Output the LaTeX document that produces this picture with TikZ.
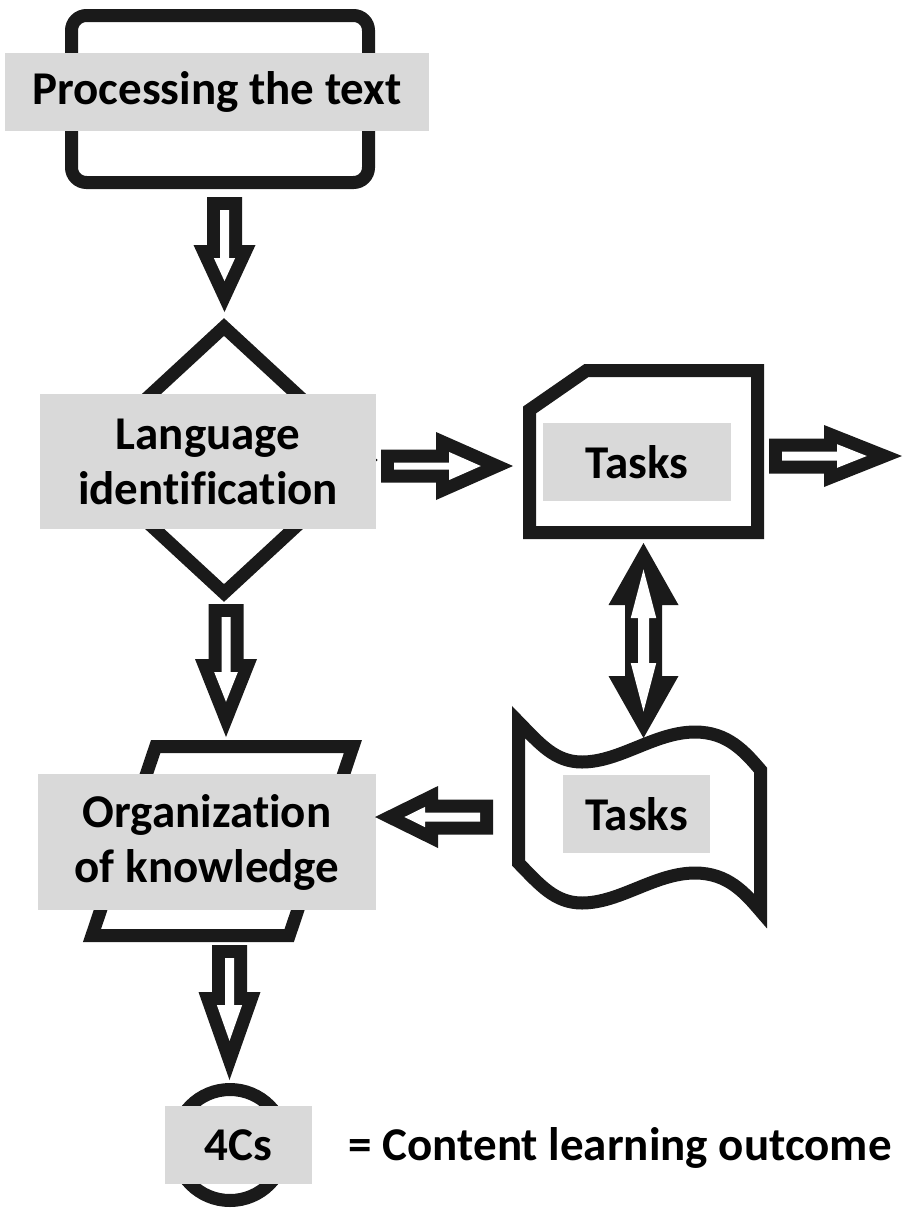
\documentclass[tikz,border=0pt]{standalone}
\usepackage{fontspec}
\setmainfont{Carlito}[RawFeature={-liga;-clig;-dlig;-calt}]
\usetikzlibrary{calc}
\definecolor{lblgray}{RGB}{217,217,217}
\definecolor{ink}{RGB}{26,26,26}
\tikzset{
  shapeline/.style={draw=ink, line width=13pt, line join=miter, fill=white},
  lbl/.style={fill=lblgray, inner sep=0pt, font=\bfseries\fontsize{47}{55}\selectfont, align=center, text=black},
  plain/.style={inner sep=0pt, font=\bfseries\fontsize{47}{55}\selectfont, text=black},
}
\newdimen\BAxa \newdimen\BAya \newdimen\BAxb \newdimen\BAyb
% #1 start, #2 end, #3 head length, #4 head half width, #5 shaft half width
\newcommand{\blockarrow}[5]{%
  \pgfextractx{\BAxa}{\pgfpointanchor{#1}{center}}%
  \pgfextracty{\BAya}{\pgfpointanchor{#1}{center}}%
  \pgfextractx{\BAxb}{\pgfpointanchor{#2}{center}}%
  \pgfextracty{\BAyb}{\pgfpointanchor{#2}{center}}%
  \pgfmathsetmacro\BAang{atan2(\the\BAyb-\the\BAya,\the\BAxb-\the\BAxa)}%
  \pgfmathsetmacro\BAlen{veclen(\the\BAxb-\the\BAxa,\the\BAyb-\the\BAya)}%
  \pgfmathsetmacro\BAb{\BAlen-#3}%
  \pgfmathsetmacro\BAal{atan(#4/#3)}%
  \pgfmathsetmacro\BAd{13/sin(\BAal)}%
  \pgfmathsetmacro\BAwi{#4*(#3-13)/#3-13/cos(\BAal)}%
  \pgfmathsetmacro\BAs{#5-13}%
  \begin{scope}[shift={(\the\BAxa,\the\BAya)}, rotate=\BAang, x=1pt, y=1pt]
    \fill[ink] (0,-#5) -- (\BAb,-#5) -- (\BAb,-#4) -- (\BAlen,0) -- (\BAb,#4) -- (\BAb,#5) -- (0,#5) -- cycle;
    \fill[white] (13,-\BAs) -- ({\BAb+13},-\BAs) -- ({\BAb+13},-\BAwi) -- ({\BAlen-\BAd},0)
       -- ({\BAb+13},\BAwi) -- ({\BAb+13},\BAs) -- (13,\BAs) -- cycle;
  \end{scope}}
\newcommand{\dblockarrow}[5]{%
  \pgfextractx{\BAxa}{\pgfpointanchor{#1}{center}}%
  \pgfextracty{\BAya}{\pgfpointanchor{#1}{center}}%
  \pgfextractx{\BAxb}{\pgfpointanchor{#2}{center}}%
  \pgfextracty{\BAyb}{\pgfpointanchor{#2}{center}}%
  \pgfmathsetmacro\BAang{atan2(\the\BAyb-\the\BAya,\the\BAxb-\the\BAxa)}%
  \pgfmathsetmacro\BAlen{veclen(\the\BAxb-\the\BAxa,\the\BAyb-\the\BAya)}%
  \pgfmathsetmacro\BAb{\BAlen-#3}%
  \pgfmathsetmacro\BAal{atan(#4/#3)}%
  \pgfmathsetmacro\BAd{13/sin(\BAal)}%
  \pgfmathsetmacro\BAwi{#4*(#3-13)/#3-13/cos(\BAal)}%
  \pgfmathsetmacro\BAs{#5-13}%
  \begin{scope}[shift={(\the\BAxa,\the\BAya)}, rotate=\BAang, x=1pt, y=1pt]
    \fill[ink] (0,0) -- (#3,-#4) -- (#3,-#5) -- (\BAb,-#5) -- (\BAb,-#4) -- (\BAlen,0)
       -- (\BAb,#4) -- (\BAb,#5) -- (#3,#5) -- (#3,#4) -- cycle;
    \fill[white] (\BAd,0) -- ({#3+13},-\BAwi) -- ({#3+13},-\BAs) -- ({\BAb-13},-\BAs) -- ({\BAb-13},-\BAwi)
       -- ({\BAlen-\BAd},0) -- ({\BAb-13},\BAwi) -- ({\BAb-13},\BAs) -- ({#3+13},\BAs) -- ({#3+13},\BAwi) -- cycle;
  \end{scope}}
\begin{document}
\begin{tikzpicture}[x=1pt,y=-1pt]
\useasboundingbox[fill=white] (0,0) rectangle (904,1208);

% shapes
\draw[shapeline, rounded corners=15pt] (71.5,15.5) rectangle (368.5,182.5);
\draw[shapeline] (224,327) -- (368,460) -- (224,593) -- (80,460) -- cycle;
\draw[shapeline] (529.5,410) -- (586.5,370.5) -- (757.5,370.5) -- (757.5,532.5) -- (529.5,532.5) -- cycle;
\draw[shapeline] (518.5,722) .. controls (540,744) and (555,762) .. (582,762)
   .. controls (620,762) and (655,732) .. (695,732)
   .. controls (728,732) and (745,752) .. (760.5,770)
   -- (760.5,911)
   .. controls (745,893) and (728,873) .. (695,873)
   .. controls (655,873) and (620,903) .. (582,903)
   .. controls (555,903) and (540,885) .. (518.5,863) -- cycle;
\draw[shapeline] (155.7,746.5) -- (352.9,746.5) -- (289.2,935.5) -- (92,935.5) -- cycle;
\draw[shapeline] (230,1145) circle[radius=55.5];

% connector end points
\coordinate (a1s) at (224.5,197);  \coordinate (a1e) at (224.5,312);
\coordinate (a2s) at (226,604);    \coordinate (a2e) at (226,737);
\coordinate (a3s) at (229.5,945);  \coordinate (a3e) at (229.5,1080);
\coordinate (a4s) at (381,466);    \coordinate (a4e) at (513,466);
\coordinate (a5s) at (769,456);    \coordinate (a5e) at (902,456);
\coordinate (a6s) at (493,817);    \coordinate (a6e) at (375,817);
\coordinate (a7s) at (643.5,543);  \coordinate (a7e) at (643.5,738);

% labels
\node[lbl, minimum width=424pt, minimum height=78pt] (proc) at (217,92) {Processing the text};
\node[lbl, minimum width=336pt, minimum height=135pt] (lang) at (208,461.5) {Language\\identification};
\node[lbl, minimum width=188pt, minimum height=78pt] (tasksA) at (637,462) {Tasks};
\node[lbl, minimum width=147pt, minimum height=78pt] (tasksB) at (636.5,814) {Tasks};
\node[lbl, minimum width=338pt, minimum height=136pt] (org) at (207,842) {Organization\\of knowledge};
\node[lbl, minimum width=147pt, minimum height=78pt] (fourc) at (238.5,1145) {4Cs};
\node[plain, anchor=base west] (outcome) at ($(fourc.base)+(110,0)$) {= Content learning outcome};

% connectors
\blockarrow{a1s}{a1e}{67}{31}{17.5}
\blockarrow{a2s}{a2e}{78}{31}{17.5}
\blockarrow{a3s}{a3e}{88}{31}{17.5}
\blockarrow{a4s}{a4e}{77}{34}{16.5}
\blockarrow{a5s}{a5e}{78}{31}{17.5}
\blockarrow{a6s}{a6e}{63}{31}{17.5}
\dblockarrow{a7s}{a7e}{62}{35}{18.5}
\end{tikzpicture}
\end{document}
